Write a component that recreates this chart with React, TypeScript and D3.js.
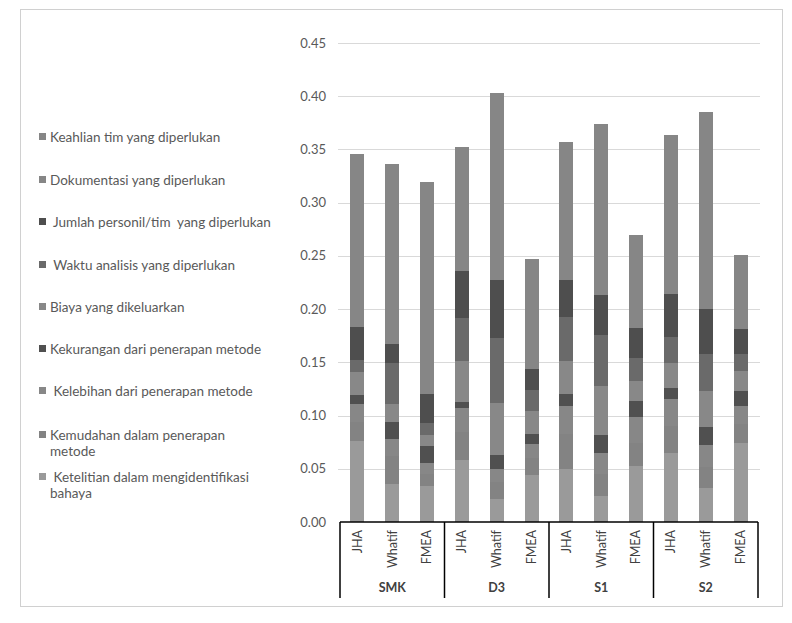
import { useEffect, useRef } from 'react';
import * as d3 from 'd3';

const groups = ['SMK', 'D3', 'S1', 'S2'];
const methods = ['JHA', 'Whatif', 'FMEA'];

// bottom to top in the stack
const seriesNames = [
  'Ketelitian dalam mengidentifikasi bahaya',
  'Kemudahan dalam penerapan metode',
  'Kelebihan dari penerapan metode',
  'Kekurangan dari penerapan metode',
  'Biaya yang dikeluarkan',
  'Waktu analisis yang diperlukan',
  'Jumlah personil/tim  yang diperlukan',
  'Dokumentasi yang diperlukan',
  'Keahlian tim yang diperlukan',
];

// values per bar: SMK(JHA, Whatif, FMEA), D3(...), S1(...), S2(...)
const ketelitian = [0.076, 0.036, 0.034, 0.058, 0.022, 0.044, 0.050, 0.024, 0.053, 0.065, 0.032, 0.0745];
const kemudahan = [0.018, 0.026, 0.011, 0.027, 0.016, 0.016, 0.033, 0.021, 0.021, 0.025, 0.020, 0.0175];
const kelebihan = [0.017, 0.016, 0.010, 0.022, 0.012, 0.013, 0.026, 0.020, 0.025, 0.0255, 0.020, 0.017];
const kekurangan = [0.008, 0.016, 0.016, 0.006, 0.013, 0.010, 0.011, 0.017, 0.015, 0.0105, 0.0175, 0.014];
const biaya = [0.022, 0.017, 0.011, 0.038, 0.049, 0.021, 0.031, 0.046, 0.018, 0.023, 0.0335, 0.019];
const waktu = [0.011, 0.038, 0.011, 0.041, 0.061, 0.020, 0.042, 0.048, 0.022, 0.025, 0.035, 0.016];
const jumlah = [0.031, 0.018, 0.027, 0.044, 0.054, 0.020, 0.034, 0.037, 0.028, 0.040, 0.042, 0.023];
const dokumentasi = [0.060, 0.065, 0.075, 0.045, 0.070, 0.040, 0.050, 0.060, 0.035, 0.055, 0.070, 0.030];
const keahlian = [0.103, 0.104, 0.124, 0.071, 0.106, 0.063, 0.080, 0.101, 0.053, 0.095, 0.115, 0.040];

const seriesValues = [ketelitian, kemudahan, kelebihan, kekurangan, biaya, waktu, jumlah, dokumentasi, keahlian];
const seriesColors = ['#9a9a9a', '#838383', '#878787', '#505050', '#888888', '#6a6a6a', '#4e4e4e', '#868686', '#868686'];

const yTicks = [0, 0.05, 0.1, 0.15, 0.2, 0.25, 0.3, 0.35, 0.4, 0.45];

// legend rows, top to bottom (may wrap to two lines)
const legendRows: { idx: number; lines: string[] }[] = [
  { idx: 8, lines: ['Keahlian tim yang diperlukan'] },
  { idx: 7, lines: ['Dokumentasi yang diperlukan'] },
  { idx: 6, lines: [' Jumlah personil/tim  yang diperlukan'] },
  { idx: 5, lines: [' Waktu analisis yang diperlukan'] },
  { idx: 4, lines: ['Biaya yang dikeluarkan'] },
  { idx: 3, lines: ['Kekurangan dari penerapan metode'] },
  { idx: 2, lines: [' Kelebihan dari penerapan metode'] },
  { idx: 1, lines: ['Kemudahan dalam penerapan', 'metode'] },
  { idx: 0, lines: [' Ketelitian dalam mengidentifikasi', 'bahaya'] },
];
const legendY = [137, 180, 222, 265, 307, 349, 391, 435, 477];

const font = 'Lato, "Open Sans", sans-serif';
const textGray = '#595959';

export default function App() {
  const svgRef = useRef<SVGSVGElement>(null);
  const width = 792;
  const height = 623;

  useEffect(() => {
    if (!svgRef.current) return;
    const svg = d3.select(svgRef.current);
    svg.selectAll('*').remove();

    const plot = { left: 340, right: 758, top: 43, bottom: 522 };

    svg.append('rect')
      .attr('x', 0).attr('y', 0).attr('width', width).attr('height', height)
      .attr('fill', '#fff');

    svg.append('rect')
      .attr('x', 20.5).attr('y', 9.5).attr('width', 762).attr('height', 597)
      .attr('fill', 'none')
      .attr('stroke', '#d0d0d0')
      .attr('stroke-width', 1);

    const bars = groups.flatMap(g => methods.map(m => `${g}|${m}`));
    const rows = bars.map((key, i) => {
      const r: Record<string, number | string> = { key };
      seriesNames.forEach((s, j) => { r[s] = seriesValues[j][i]; });
      return r;
    });

    const x = d3.scaleBand<string>()
      .domain(bars)
      .range([plot.left, plot.right])
      .paddingInner(0.6)
      .paddingOuter(0.3);

    const y = d3.scaleLinear()
      .domain([0, 0.45])
      .range([plot.bottom, plot.top]);

    // gridlines
    svg.append('g')
      .selectAll('line')
      .data(yTicks.slice(1))
      .join('line')
      .attr('x1', plot.left - 2)
      .attr('x2', plot.right + 2)
      .attr('y1', d => Math.round(y(d)) + 0.5)
      .attr('y2', d => Math.round(y(d)) + 0.5)
      .attr('stroke', '#d9d9d9')
      .attr('stroke-width', 1);

    // y tick labels
    svg.append('g')
      .selectAll('text')
      .data(yTicks)
      .join('text')
      .attr('x', 326)
      .attr('y', d => y(d))
      .attr('dy', '0.35em')
      .attr('text-anchor', 'end')
      .attr('fill', textGray)
      .attr('font-family', font)
      .attr('font-size', '13px')
      .text(d => d.toFixed(2));

    const stack = d3.stack<Record<string, number | string>>()
      .keys(seriesNames)
      .value((d, k) => d[k] as number);
    const stacked = stack(rows);

    svg.append('g')
      .attr('shape-rendering', 'crispEdges')
      .selectAll('g')
      .data(stacked)
      .join('g')
      .attr('fill', (_d, i) => seriesColors[i])
      .selectAll('rect')
      .data(d => d)
      .join('rect')
      .attr('x', d => Math.round(x(d.data.key as string)!))
      .attr('width', Math.round(x.bandwidth()))
      .attr('y', d => Math.round(y(d[1])))
      .attr('height', d => Math.round(y(d[0])) - Math.round(y(d[1])));

    // category axis
    const axis = svg.append('g').attr('stroke', '#000').attr('stroke-width', 1.5);
    axis.append('line')
      .attr('x1', plot.left).attr('x2', plot.right)
      .attr('y1', plot.bottom).attr('y2', plot.bottom);

    const groupEdges = d3.range(groups.length + 1).map(i => plot.left + i * 3 * (plot.right - plot.left) / 12);
    axis.selectAll('line.sep')
      .data(groupEdges)
      .join('line')
      .attr('class', 'sep')
      .attr('x1', d => d).attr('x2', d => d)
      .attr('y1', plot.bottom).attr('y2', 598);

    svg.append('g')
      .selectAll('text')
      .data(bars)
      .join('text')
      .attr('transform', d => `translate(${x(d)! + x.bandwidth() / 2},${530}) rotate(-90)`)
      .attr('dy', '0.35em')
      .attr('text-anchor', 'end')
      .attr('fill', '#404040')
      .attr('font-family', font)
      .attr('font-size', '12.5px')
      .text(d => d.split('|')[1]);

    svg.append('g')
      .selectAll('text')
      .data(groups)
      .join('text')
      .attr('x', (_d, i) => (groupEdges[i] + groupEdges[i + 1]) / 2)
      .attr('y', 592)
      .attr('text-anchor', 'middle')
      .attr('fill', '#404040')
      .attr('font-family', font)
      .attr('font-weight', 'bold')
      .attr('font-size', '12.5px')
      .text(d => d);

    // legend
    const legend = svg.append('g');
    legendRows.forEach((row, i) => {
      const ly = legendY[i];
      legend.append('rect')
        .attr('x', 39).attr('y', ly - 4).attr('width', 7).attr('height', 7)
        .attr('fill', seriesColors[row.idx]);
      row.lines.forEach((ln, k) => {
        legend.append('text')
          .attr('x', 50)
          .attr('y', ly + k * 16.5)
          .attr('dy', '0.35em')
          .attr('fill', textGray)
          .attr('font-family', font)
          .attr('font-size', '13.5px')
          .style('white-space', 'pre')
          .text(ln);
      });
    });
  }, []);

  return (
    <svg
      ref={svgRef}
      width={width}
      height={height}
      style={{ position: 'absolute', left: 0, top: 0 }}
    />
  );
}
